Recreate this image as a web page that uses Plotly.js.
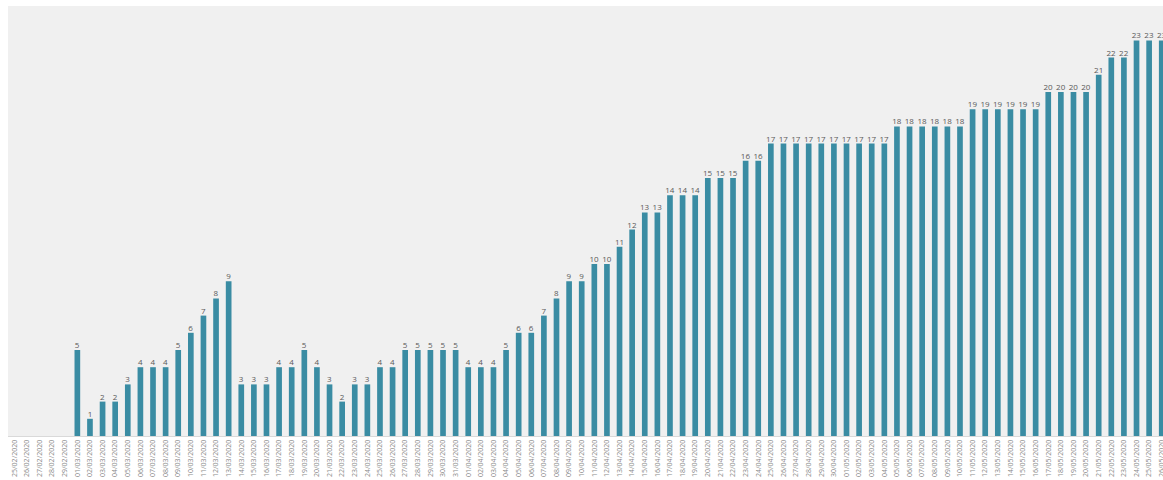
<!DOCTYPE html>
<html>
<head>
<meta charset="utf-8">
<script src="https://cdn.plot.ly/plotly-3.0.1.min.js"></script>
<style>
  html, body { margin: 0; padding: 0; background: #ffffff; }
  #chart { width: 1163px; height: 480px; }
</style>
</head>
<body>
<div id="chart"></div>
<script>
// Daily dates, 25/02/2020 – 26/05/2020
const dates = [
  "25/02/2020","26/02/2020","27/02/2020","28/02/2020","29/02/2020",
  "01/03/2020","02/03/2020","03/03/2020","04/03/2020","05/03/2020","06/03/2020","07/03/2020",
  "08/03/2020","09/03/2020","10/03/2020","11/03/2020","12/03/2020","13/03/2020","14/03/2020",
  "15/03/2020","16/03/2020","17/03/2020","18/03/2020","19/03/2020","20/03/2020","21/03/2020",
  "22/03/2020","23/03/2020","24/03/2020","25/03/2020","26/03/2020","27/03/2020","28/03/2020",
  "29/03/2020","30/03/2020","31/03/2020",
  "01/04/2020","02/04/2020","03/04/2020","04/04/2020","05/04/2020","06/04/2020","07/04/2020",
  "08/04/2020","09/04/2020","10/04/2020","11/04/2020","12/04/2020","13/04/2020","14/04/2020",
  "15/04/2020","16/04/2020","17/04/2020","18/04/2020","19/04/2020","20/04/2020","21/04/2020",
  "22/04/2020","23/04/2020","24/04/2020","25/04/2020","26/04/2020","27/04/2020","28/04/2020",
  "29/04/2020","30/04/2020",
  "01/05/2020","02/05/2020","03/05/2020","04/05/2020","05/05/2020","06/05/2020","07/05/2020",
  "08/05/2020","09/05/2020","10/05/2020","11/05/2020","12/05/2020","13/05/2020","14/05/2020",
  "15/05/2020","16/05/2020","17/05/2020","18/05/2020","19/05/2020","20/05/2020","21/05/2020",
  "22/05/2020","23/05/2020","24/05/2020","25/05/2020","26/05/2020"
];

// Daily count per date
const counts = [
  0, 0, 0, 0, 0,
  5, 1, 2, 2, 3, 4, 4,
  4, 5, 6, 7, 8, 9, 3,
  3, 3, 4, 4, 5, 4, 3,
  2, 3, 3, 4, 4, 5, 5,
  5, 5, 5,
  4, 4, 4, 5, 6, 6, 7,
  8, 9, 9, 10, 10, 11, 12,
  13, 13, 14, 14, 14, 15, 15,
  15, 16, 16, 17, 17, 17, 17,
  17, 17,
  17, 17, 17, 17, 18, 18, 18,
  18, 18, 18, 19, 19, 19, 19,
  19, 19, 20, 20, 20, 20, 21,
  22, 22, 23, 23, 23
];

// Value labels only above non-empty bars
const labels = counts.map(v => v > 0 ? String(v) : "");

const trace = {
  type: "bar",
  x: dates,
  y: counts,
  text: labels,
  textposition: "outside",
  constraintext: "none",
  cliponaxis: false,
  textfont: { family: "Open Sans, Liberation Sans, sans-serif", size: 8, color: "#595959" },
  marker: { color: "#3a8ca3", line: { width: 0 } },
  width: 0.45,
  hoverinfo: "x+y"
};

const layout = {
  width: 1163,
  height: 480,
  margin: { l: 8, r: 0, t: 6, b: 44, pad: 0 },
  paper_bgcolor: "#ffffff",
  plot_bgcolor: "#f0f0f0",
  showlegend: false,
  xaxis: {
    type: "category",
    range: [-0.5, 91.1],
    tickangle: -90,
    tickfont: { family: "Open Sans, Liberation Sans, sans-serif", size: 7, color: "#8a8a8a" },
    showgrid: false,
    zeroline: false,
    showline: true,
    linecolor: "#d9d9d9",
    linewidth: 1,
    ticks: "",
    automargin: false
  },
  yaxis: {
    range: [0, 25],
    visible: false,
    showgrid: false,
    zeroline: false,
    fixedrange: true
  }
};

Plotly.newPlot("chart", [trace], layout, { displayModeBar: false, staticPlot: true });
</script>
</body>
</html>
